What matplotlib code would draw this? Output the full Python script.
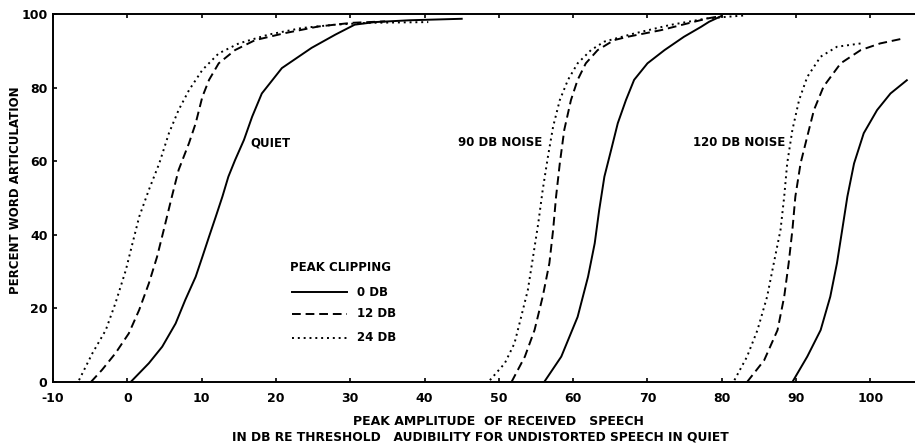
import matplotlib
matplotlib.use("Agg")
import matplotlib.pyplot as plt
from matplotlib.lines import Line2D

# ---- data ----
quiet_0_x = [0.45, 2.9, 4.7, 6.5, 7.8, 9.2, 10.1, 11.0, 11.9, 12.8, 13.6, 14.5, 15.7, 16.8, 18.1,
             20.8, 24.8, 28.0, 30.6, 33.3, 38.0, 45.0]
quiet_0_y = [0, 5.1, 9.6, 15.9, 22.3, 28.6, 34, 39.5, 44.9, 50.4, 55.8, 60.3, 65.8, 72.1, 78.4,
             85.3, 90.8, 94.4, 97.1, 97.8, 98.3, 98.7]
quiet_12_x = [-4.9, -3.4, -1.6, 0.2, 1.6, 2.9, 4.0, 4.9, 6.0, 6.9, 8.3, 9.2, 10.1, 11.0, 12.3,
              14.5, 17.2, 21.2, 25.7, 30.2, 34.7]
quiet_12_y = [0, 3.3, 7.8, 13.2, 19.6, 26.8, 34, 41.3, 50.4, 57.6, 64.9, 70.3, 77.5, 82.1, 86.6,
              90.2, 92.9, 94.8, 96.6, 97.6, 98]
quiet_24_x = [-6.5, -4.7, -2.9, -1.6, -0.2, 0.7, 1.6, 2.9, 4.3, 5.6, 6.9, 8.3, 10.1, 12.3,
              15.0, 19.0, 23.5, 28.0, 32.4, 40.5]
quiet_24_y = [0.5, 7.8, 14.1, 21.4, 30.4, 37.7, 44.9, 52.2, 59.4, 67.6, 73.9, 79.3, 84.8, 89.3,
              92, 94.4, 96.2, 97.1, 97.6, 97.8]

n90_0_x = [56.1, 58.4, 60.6, 62.0, 62.9, 63.5, 64.2, 65.1, 66.0, 67.1, 68.2, 70.0, 72.3, 74.9,
           77.2, 78.3, 80.0]
n90_0_y = [0, 6.9, 17.7, 28.6, 37.7, 46.7, 55.8, 63, 70.3, 76.6, 82.1, 86.6, 90.2, 93.8,
           96.5, 97.9, 99.5]
n90_12_x = [51.7, 53.5, 54.8, 55.9, 56.8, 57.3, 57.7, 58.2, 58.8, 59.7, 60.6, 61.7, 63.3, 65.5,
            67.3, 71.8, 76.3, 78.1, 80.0]
n90_12_y = [0, 6.9, 14.1, 23.2, 32.3, 41.3, 50.4, 59.4, 68.5, 76.6, 82.1, 86.6, 90.2, 92.9,
            93.8, 95.6, 97.9, 98.8, 99.5]
n90_24_x = [48.8, 50.8, 52.1, 53.0, 53.9, 54.6, 55.3, 55.9, 56.6, 57.3, 58.2, 59.3, 60.6, 62.4,
            64.2, 68.0, 73.0, 78.0, 83.0]
n90_24_y = [0.5, 5.1, 10.5, 17.7, 25, 34, 43.1, 52.2, 61.2, 69.4, 76.6, 82.1, 86.6, 90.2,
            92.5, 94.6, 97, 98.8, 99.6]

n120_0_x = [89.5, 91.5, 93.3, 94.6, 95.5, 96.2, 96.9, 97.8, 99.1, 100.9, 102.7, 104.9]
n120_0_y = [0, 6.9, 14.1, 23.2, 32.3, 41.3, 50.4, 59.4, 67.6, 73.9, 78.4, 82]
n120_12_x = [83.4, 85.7, 87.5, 88.4, 89.0, 89.5, 89.9, 90.6, 91.5, 92.4, 93.7, 96.0, 98.7,
             101.3, 104.3]
n120_12_y = [0, 5.9, 14.1, 23.2, 32.3, 41.3, 50.4, 59.4, 66.7, 73.9, 80.3, 86.6, 90.2, 92, 93.3]
n120_24_x = [81.7, 83.4, 84.8, 86.1, 87.0, 87.9, 88.4, 88.8, 89.5, 90.4, 91.5, 93.3, 95.5, 98.7]
n120_24_y = [0.5, 6.9, 14.1, 23.2, 32.3, 41.3, 50.4, 59.4, 68.5, 76.6, 82.9, 88.4, 91.1, 92]

x_ticks = [-10, 0, 10, 20, 30, 40, 50, 60, 70, 80, 90, 100]
y_ticks = [0, 20, 40, 60, 80, 100]
condition_labels = ["QUIET", "90 DB NOISE", "120 DB NOISE"]
clipping_labels = ["0 DB", "12 DB", "24 DB"]

# ---- styling ----
FONT = "DejaVu Sans"
W = "bold"
solid = "-"
dashed = (0, (4.5, 2.5))
dotted = (0, (1, 2))
lw = 1.4

fig = plt.figure(figsize=(9.15, 4.47), dpi=100)
ax = fig.add_axes([53 / 915, 1 - 382 / 447, 1 - 53 / 915, (382 - 14) / 447])

groups = [
    (quiet_0_x, quiet_0_y, quiet_12_x, quiet_12_y, quiet_24_x, quiet_24_y),
    (n90_0_x, n90_0_y, n90_12_x, n90_12_y, n90_24_x, n90_24_y),
    (n120_0_x, n120_0_y, n120_12_x, n120_12_y, n120_24_x, n120_24_y),
]
for g in groups:
    ax.plot(g[0], g[1], color="black", lw=lw, linestyle=solid)
    ax.plot(g[2], g[3], color="black", lw=lw, linestyle=dashed)
    ax.plot(g[4], g[5], color="black", lw=lw, linestyle=dotted)

ax.set_xlim(-10, 106)
ax.set_ylim(0, 100)
ax.set_xticks(x_ticks)
ax.set_yticks(y_ticks)
ax.set_xticklabels([str(t) for t in x_ticks], fontsize=9, family=FONT, weight=W)
ax.set_yticklabels([str(t) for t in y_ticks], fontsize=9, family=FONT, weight=W)
ax.tick_params(axis="x", direction="in", length=3, width=1.2, top=True, pad=7)
ax.tick_params(axis="y", direction="in", length=3, width=1.2, pad=4)
ax.spines["right"].set_visible(False)
for s in ["left", "bottom", "top"]:
    ax.spines[s].set_linewidth(1.4)

ax.set_ylabel("PERCENT WORD ARTICULATION", fontsize=8.5, family=FONT, weight=W)
ax.yaxis.set_label_coords(-31 / 862, (382 - 190) / 368)

fig.text(498 / 915, 1 - 421.5 / 447, "PEAK AMPLITUDE  OF RECEIVED   SPEECH",
         fontsize=9, family=FONT, weight=W, ha="center", va="center")
fig.text(480 / 915, 1 - 436.5 / 447,
         "IN DB RE THRESHOLD   AUDIBILITY FOR UNDISTORTED SPEECH IN QUIET",
         fontsize=8.8, family=FONT, weight=W, ha="center", va="center")

# condition annotations
ax.text(16.5, 65, condition_labels[0], fontsize=8.5, family=FONT, weight=W, va="center", ha="left")
ax.text(44.5, 65, condition_labels[1], fontsize=8.5, family=FONT, weight=W, va="center", ha="left")
ax.text(76.1, 65, condition_labels[2], fontsize=8.5, family=FONT, weight=W, va="center", ha="left")

# legend drawn manually
ax.text(21.9, 31, "PEAK CLIPPING", fontsize=8.5, family=FONT, weight=W, va="center", ha="left")
for yy, ls, lab in zip([24.4, 18.5, 12.0], [solid, dashed, dotted], clipping_labels):
    ax.add_line(Line2D([22.1, 29.5], [yy, yy], color="black", lw=lw, linestyle=ls))
    ax.text(30.9, yy, lab, fontsize=8.5, family=FONT, weight=W, va="center", ha="left")

fig.savefig("out.png", dpi=100)
